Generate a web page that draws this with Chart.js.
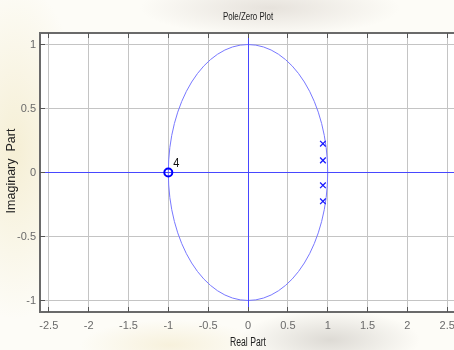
<!DOCTYPE html>
<html>
<head>
<meta charset="utf-8">
<script src="https://cdn.jsdelivr.net/npm/chart.js@4"></script>
<style>
  html, body { margin: 0; padding: 0; }
  body {
    width: 454px;
    height: 350px;
    overflow: hidden;
    background:
      radial-gradient(ellipse 70px 170px at 15px 150px, rgba(240, 230, 190, 0.6), rgba(255, 255, 255, 0) 100%),
      radial-gradient(ellipse 130px 28px at 270px 8px, rgba(212, 205, 198, 0.55), rgba(255, 255, 255, 0) 100%),
      radial-gradient(ellipse 90px 30px at 330px 340px, rgba(200, 196, 190, 0.6), rgba(255, 255, 255, 0) 100%),
      radial-gradient(ellipse 90px 25px at 170px 345px, rgba(242, 232, 198, 0.55), rgba(255, 255, 255, 0) 100%),
      #fdfcf7;
  }
  canvas { display: block; }
</style>
</head>
<body>
<canvas id="myChart" width="454" height="350"></canvas>
<script>
// axis ranges and tick labels
const xRange = [-2.61, 2.59];
const yRange = [-1.09, 1.09];
const xTicks = [-2.5, -2, -1.5, -1, -0.5, 0, 0.5, 1, 1.5, 2, 2.5];
const yTicks = [-1, -0.5, 0, 0.5, 1];

// zeros (4 at z = -1) and poles
const zerosRe = [-1];
const zerosIm = [0];
const zeroMultiplicity = "4";
const polesRe = [0.94, 0.94, 0.94, 0.94];
const polesIm = [0.225, 0.095, -0.1, -0.225];

// unit circle
const unitCircle = { re: 0, im: 0, r: 1 };

const sans = "'Liberation Sans', Arial, sans-serif";
const ctx = document.getElementById("myChart");

// same pixel snapping Chart.js uses for 1px grid lines
const snap = (p) => Math.round(p - 0.5) + 0.5;

// draws condensed text like the original figure
function narrowText(c, text, x, y, size, squeeze) {
  c.save();
  c.font = size + "px " + sans;
  c.translate(x, y);
  c.scale(squeeze, 1);
  c.fillText(text, 0, 0);
  c.restore();
}

const plotFrame = {
  id: "plotFrame",
  beforeDraw(chart) {
    const c = chart.ctx;
    const a = chart.chartArea;
    c.save();
    c.fillStyle = "#ffffff";
    c.fillRect(a.left, a.top, a.right - a.left, a.bottom - a.top);
    c.restore();
  },
  beforeDatasetsDraw(chart) {
    const c = chart.ctx;
    const a = chart.chartArea;
    const xs = chart.scales.x;
    const ys = chart.scales.y;
    c.save();
    c.beginPath();
    c.rect(a.left, a.top, a.right - a.left, a.bottom - a.top);
    c.clip();
    // unit circle
    c.strokeStyle = "#7878ff";
    c.lineWidth = 1;
    c.beginPath();
    c.ellipse(
      xs.getPixelForValue(unitCircle.re),
      ys.getPixelForValue(unitCircle.im),
      Math.abs(xs.getPixelForValue(unitCircle.r) - xs.getPixelForValue(0)),
      Math.abs(ys.getPixelForValue(unitCircle.r) - ys.getPixelForValue(0)),
      0, 0, Math.PI * 2
    );
    c.stroke();
    // real and imaginary axes
    c.strokeStyle = "#4848ff";
    c.beginPath();
    c.moveTo(a.left, snap(ys.getPixelForValue(0)));
    c.lineTo(a.right, snap(ys.getPixelForValue(0)));
    c.moveTo(snap(xs.getPixelForValue(0)), a.top);
    c.lineTo(snap(xs.getPixelForValue(0)), a.bottom);
    c.stroke();
    c.restore();
  },
  afterDraw(chart) {
    const c = chart.ctx;
    const a = chart.chartArea;
    const xs = chart.scales.x;
    const ys = chart.scales.y;
    const mid = xs.getPixelForValue(0);
    c.save();
    // frame (right side runs off the picture)
    c.strokeStyle = "#6a6a6a";
    c.lineWidth = 2;
    c.beginPath();
    c.moveTo(a.right, a.top);
    c.lineTo(a.left, a.top);
    c.lineTo(a.left, a.bottom);
    c.lineTo(a.right, a.bottom);
    c.stroke();
    // inward ticks
    c.lineWidth = 1;
    c.strokeStyle = "#555555";
    c.beginPath();
    xTicks.forEach((v) => {
      const px = snap(xs.getPixelForValue(v));
      c.moveTo(px, a.bottom);
      c.lineTo(px, a.bottom - 5);
      c.moveTo(px, a.top);
      c.lineTo(px, a.top + 5);
    });
    yTicks.forEach((v) => {
      const py = snap(ys.getPixelForValue(v));
      c.moveTo(a.left, py);
      c.lineTo(a.left + 5, py);
    });
    c.stroke();
    // multiplicity label
    c.fillStyle = "#111111";
    c.textAlign = "left";
    c.textBaseline = "middle";
    narrowText(c, zeroMultiplicity, xs.getPixelForValue(zerosRe[0]) + 5, ys.getPixelForValue(zerosIm[0]) - 9, 13, 0.85);
    // title and axis labels
    c.fillStyle = "#222222";
    c.textAlign = "center";
    narrowText(c, "Pole/Zero Plot", mid, 17, 11, 0.72);
    narrowText(c, "Real Part", mid, 343, 12, 0.72);
    c.translate(12, 171);
    c.rotate(-Math.PI / 2);
    c.font = "12.5px " + sans;
    c.fillText("Imaginary  Part", 0, 0);
    c.restore();
  },
};

function buildChart() {
  return new Chart(ctx, {
    type: "scatter",
    data: {
      datasets: [
        {
          label: "Zeros",
          data: zerosRe.map((re, i) => ({ x: re, y: zerosIm[i] })),
          pointStyle: "circle",
          pointRadius: 4,
          borderWidth: 2,
          borderColor: "#0000ff",
          backgroundColor: "rgba(0,0,0,0)",
        },
        {
          label: "Poles",
          data: polesRe.map((re, i) => ({ x: re, y: polesIm[i] })),
          pointStyle: "crossRot",
          pointRadius: 4,
          borderWidth: 1.3,
          borderColor: "#1a1aff",
          backgroundColor: "#1a1aff",
        },
      ],
    },
    options: {
      responsive: false,
      animation: false,
      layout: { padding: { top: 33, left: 0, right: 0, bottom: 0 } },
      plugins: {
        legend: { display: false },
        tooltip: { enabled: false },
      },
      scales: {
        x: {
          type: "linear",
          min: xRange[0],
          max: xRange[1],
          afterFit: (scale) => { scale.height = 38; },
          afterBuildTicks: (scale) => { scale.ticks = xTicks.map((v) => ({ value: v })); },
          grid: { color: "#c4c4c4", lineWidth: 1, drawTicks: false },
          border: { display: false },
          ticks: {
            padding: 7,
            color: "#6a6a6a",
            font: { size: 11, family: sans },
            callback: (v) => String(v),
          },
        },
        y: {
          type: "linear",
          min: yRange[0],
          max: yRange[1],
          afterFit: (scale) => { scale.width = 40; },
          afterBuildTicks: (scale) => { scale.ticks = yTicks.map((v) => ({ value: v })); },
          grid: { color: "#c4c4c4", lineWidth: 1, drawTicks: false },
          border: { display: false },
          ticks: {
            padding: 4,
            color: "#6a6a6a",
            font: { size: 11, family: sans },
            callback: (v) => String(v),
          },
        },
      },
    },
    plugins: [plotFrame],
  });
}

// the plot box runs off the right edge of the picture: Chart.js keeps some
// room on the right for the markers, so make the canvas that much wider
let chart = buildChart();
const extra = Math.round(454 - chart.chartArea.right);
if (extra > 0) {
  chart.destroy();
  ctx.width = 454 + extra;
  ctx.height = 350;
  ctx.style.width = 454 + extra + "px";
  ctx.style.height = "350px";
  chart = buildChart();
}
</script>
</body>
</html>
